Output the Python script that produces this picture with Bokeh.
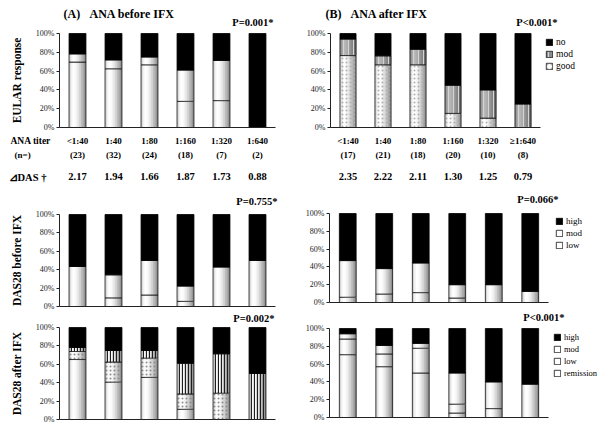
from bokeh.plotting import figure
from bokeh.models import (Range1d, FixedTicker, PrintfTickFormatter, Label, Legend, LegendItem,
                          LinearAxis)
from bokeh.embed import file_html
from bokeh.resources import INLINE

# ---------------- data ----------------
titer_A = ["<1:40", "1:40", "1:80", "1:160", "1:320", "1:640"]
titer_B = ["<1:40", "1:40", "1:80", "1:160", "1:320", "\u22651:640"]
n_A = ["(23)", "(32)", "(24)", "(18)", "(7)", "(2)"]
n_B = ["(17)", "(21)", "(18)", "(20)", "(10)", "(8)"]
ddas_A = ["2.17", "1.94", "1.66", "1.87", "1.73", "0.88"]
ddas_B = ["2.35", "2.22", "2.11", "1.30", "1.25", "0.79"]

eular_A_good = [69.6, 62.5, 66.7, 27.8, 28.6, 0.0]
eular_A_mod = [8.7, 9.4, 8.3, 33.3, 42.8, 0.0]
eular_A_no = [21.7, 28.1, 25.0, 38.9, 28.6, 100.0]

eular_B_good = [76.5, 66.7, 66.7, 15.0, 10.0, 0.0]
eular_B_mod = [17.6, 9.5, 16.6, 30.0, 30.0, 25.0]
eular_B_no = [5.9, 23.8, 16.7, 55.0, 60.0, 75.0]

dasb_A_low = [0.0, 9.4, 12.5, 5.6, 0.0, 0.0]
dasb_A_mod = [43.5, 25.0, 37.5, 16.6, 42.9, 50.0]
dasb_A_high = [56.5, 65.6, 50.0, 77.8, 57.1, 50.0]

dasb_B_low = [5.9, 9.5, 11.1, 5.0, 0.0, 0.0]
dasb_B_mod = [41.2, 28.6, 33.3, 15.0, 20.0, 12.5]
dasb_B_high = [52.9, 61.9, 55.6, 80.0, 80.0, 87.5]

dasa_A_rem = [65.2, 40.6, 45.8, 11.1, 0.0, 0.0]
dasa_A_low = [8.7, 21.9, 20.9, 16.7, 28.6, 0.0]
dasa_A_mod = [4.4, 12.5, 8.3, 33.3, 42.8, 50.0]
dasa_A_high = [21.7, 25.0, 25.0, 38.9, 28.6, 50.0]

dasa_B_rem = [70.6, 57.1, 50.0, 5.0, 0.0, 0.0]
dasa_B_low = [17.6, 14.3, 27.8, 10.0, 10.0, 0.0]
dasa_B_mod = [5.9, 9.6, 5.5, 35.0, 30.0, 37.5]
dasa_B_high = [5.9, 19.0, 16.7, 50.0, 60.0, 62.5]

y_ticks = [0, 20, 40, 60, 80, 100]

# ---------------- styles ----------------
SERIF = "Liberation Serif"
WHITE_GRAD = ["#d6d6d6", "#f2f2f2", "#ffffff", "#fcfcfc", "#f2f2f2", "#e4e4e4",
              "#d2d2d2", "#bebebe", "#a8a8a8", "#909090"]
GRAY_GRAD = ["#8c8c8c", "#a8a8a8", "#b8b8b8", "#b4b4b4", "#aaaaaa", "#a0a0a0",
             "#949494", "#888888", "#7a7a7a", "#6a6a6a"]
STYLES = {
    "white": dict(grad=WHITE_GRAD, hatch={}),
    "dots": dict(grad=WHITE_GRAD, hatch=dict(hatch_pattern="dot", hatch_color="#8c8c8c",
                                             hatch_scale=4, hatch_weight=1)),
    "lightdots": dict(grad=WHITE_GRAD, hatch=dict(hatch_pattern="dot", hatch_color="#b0b0b0",
                                                  hatch_scale=4, hatch_weight=1)),
    "stripes": dict(grad=WHITE_GRAD, hatch=dict(hatch_pattern="vertical_line", hatch_color="#1e1e1e",
                                                hatch_scale=3, hatch_weight=1.3)),
    "gray": dict(grad=GRAY_GRAD, hatch=dict(hatch_pattern="vertical_line", hatch_color="#d4d4d4",
                                            hatch_scale=5, hatch_weight=1)),
    "black": dict(grad=None, hatch={}),
}

W, H = 600, 424
p = figure(width=W, height=H, x_range=Range1d(0, W), y_range=Range1d(H, 0),
           x_axis_type=None, y_axis_type=None, output_backend="svg", toolbar_location=None,
           min_border=0, min_border_left=0, min_border_right=0, min_border_top=0,
           min_border_bottom=0)
p.outline_line_color = None
p.background_fill_color = "white"
p.border_fill_color = "white"

# panel frames in page pixels: (left, right, top, bottom)
GEOM = {
    "A1": (59, 275, 33, 127),
    "B1": (330, 540, 33, 127),
    "A2": (59, 275, 214, 306),
    "B2": (329, 548, 213, 302),
    "A3": (59, 275, 327, 419),
    "B3": (329, 548, 328, 417),
}
xr, yr = {}, {}
for key, (L, R, T, B) in GEOM.items():
    sx = 6.0 / (R - L)
    sy = 100.0 / (B - T)
    xr[key] = Range1d(-0.5 - L * sx, 5.5 + (W - R) * sx)
    yr[key] = Range1d(-(H - B) * sy, 100 + T * sy)
p.extra_x_ranges = xr
p.extra_y_ranges = yr


def add_axes(key, ylabel=None, xlabels=None):
    ya = LinearAxis(x_range_name=key, y_range_name=key, fixed_location=-0.5, bounds=(0, 100),
                    ticker=FixedTicker(ticks=y_ticks), formatter=PrintfTickFormatter(format="%d%%"))
    ya.major_tick_out = 3
    ya.major_tick_in = 0
    ya.minor_tick_out = 0
    ya.minor_tick_in = 0
    ya.major_label_standoff = 2
    ya.major_label_text_font = SERIF
    ya.major_label_text_font_size = "8px"
    ya.major_label_text_color = "#222222"
    ya.axis_line_color = "#222222"
    ya.major_tick_line_color = "#222222"
    if ylabel:
        ya.axis_label = ylabel
        ya.axis_label_text_font = SERIF
        ya.axis_label_text_font_size = "11.5px"
        ya.axis_label_text_font_style = "bold"
        ya.axis_label_text_color = "black"
        ya.axis_label_standoff = 10
    p.add_layout(ya, "left")
    xa = LinearAxis(x_range_name=key, y_range_name=key, fixed_location=0, bounds=(-0.5, 5.5))
    xa.major_tick_out = 0
    xa.major_tick_in = 0
    xa.minor_tick_out = 0
    xa.minor_tick_in = 0
    xa.axis_line_color = "#222222"
    if xlabels:
        xa.ticker = FixedTicker(ticks=list(range(len(xlabels))))
        xa.major_label_overrides = {i: s for i, s in enumerate(xlabels)}
        xa.major_label_text_font = SERIF
        xa.major_label_text_font_size = "9px"
        xa.major_label_text_font_style = "bold"
        xa.major_label_text_color = "black"
        xa.major_label_standoff = 8
    else:
        xa.ticker = FixedTicker(ticks=[])
    p.add_layout(xa, "below")


def draw_stack(key, series, bw):
    bottoms = [0.0] * 6
    out = {}
    kw = dict(x_range_name=key, y_range_name=key)
    for name, vals, skey in series:
        st = STYLES[skey]
        tops = [b + v for b, v in zip(bottoms, vals)]
        idx = [i for i in range(6) if vals[i] > 0]
        xs = [float(i) for i in idx]
        bs = [bottoms[i] for i in idx]
        ts = [tops[i] for i in idx]
        if st["grad"] is None:
            r = p.vbar(x=xs, width=bw, bottom=bs, top=ts, fill_color="black",
                       line_color="black", line_width=0.8, **kw)
            out[name] = [r]
        else:
            grad = st["grad"]
            N = len(grad)
            first = None
            for k, c in enumerate(grad):
                w = bw - k * bw / N
                off = -bw / 2 + k * bw / N + w / 2
                rr = p.vbar(x=[x + off for x in xs], width=w, bottom=bs, top=ts,
                            fill_color=c, line_color=None, **kw)
                if first is None:
                    first = rr
            r = p.vbar(x=xs, width=bw, bottom=bs, top=ts, fill_color=None,
                       line_color="#111111", line_width=0.8, **kw, **st["hatch"])
            out[name] = [first, r] if skey == "gray" else [r]
        bottoms = tops
    return out


def text(x, y, s, size, bold=True, align="left", key=None):
    kw = dict(x_range_name=key) if key else {}
    p.add_layout(Label(x=x, y=y, text=s, text_font=SERIF, text_font_size=f"{size}px",
                       text_font_style="bold" if bold else "normal", text_align=align,
                       text_baseline="middle", text_color="black", **kw))


def legend(entries, rx, ry_bottom, size):
    items = [LegendItem(label=lab, renderers=rs) for lab, rs in entries]
    lg = Legend(items=items, location=(rx, H - ry_bottom), orientation="vertical",
                border_line_color=None, background_fill_alpha=0, padding=0, margin=0,
                spacing=2, glyph_width=8, glyph_height=8, label_height=8, label_standoff=3,
                label_text_font=SERIF, label_text_font_size=f"{size}px",
                label_text_color="black")
    p.add_layout(lg)


BWA = 0.47
BWB = 0.46

# ---- (A) EULAR response ----
add_axes("A1", ylabel="EULAR response", xlabels=titer_A)
draw_stack("A1", [("good", eular_A_good, "white"), ("mod", eular_A_mod, "white"),
                  ("no", eular_A_no, "black")], BWA)
text(63, 13, "(A)", 12)
text(89, 13, "ANA before IFX", 12)
text(273, 22, "P=0.001*", 10.5, align="right")
text(10, 140, "ANA titer", 9.5)
text(14, 154, "(n=)", 9)
text(8, 177, "\u22bfDAS \u2020", 10.5)
for i in range(6):
    text(i, 154, n_A[i], 9, align="center", key="A1")
    text(i, 176, ddas_A[i], 10.5, align="center", key="A1")

# ---- (B) EULAR response ----
add_axes("B1", xlabels=titer_B)
rB1 = draw_stack("B1", [("good", eular_B_good, "lightdots"), ("mod", eular_B_mod, "gray"),
                        ("no", eular_B_no, "black")], BWB)
text(325, 13, "(B)", 12)
text(350, 13, "ANA after IFX", 12)
text(557, 22, "P<0.001*", 10.5, align="right")
for i in range(6):
    text(i, 154, n_B[i], 9, align="center", key="B1")
    text(i, 176, ddas_B[i], 10.5, align="center", key="B1")
legend([("no", rB1["no"]), ("mod", rB1["mod"]), ("good", rB1["good"])], 545, 71, 9.5)

# ---- DAS28 before IFX ----
add_axes("A2", ylabel="DAS28 before IFX")
draw_stack("A2", [("low", dasb_A_low, "white"), ("mod", dasb_A_mod, "white"),
                  ("high", dasb_A_high, "black")], BWA)
text(277, 201, "P=0.755*", 10.5, align="right")

add_axes("B2")
rB2 = draw_stack("B2", [("low", dasb_B_low, "white"), ("mod", dasb_B_mod, "white"),
                        ("high", dasb_B_high, "black")], BWB)
text(558, 199, "P=0.066*", 10.5, align="right")
legend([("high", rB2["high"]), ("mod", rB2["mod"]), ("low", rB2["low"])], 555, 250, 9)

# ---- DAS28 after IFX ----
add_axes("A3", ylabel="DAS28 after IFX")
draw_stack("A3", [("remission", dasa_A_rem, "white"), ("low", dasa_A_low, "dots"),
                  ("mod", dasa_A_mod, "stripes"), ("high", dasa_A_high, "black")], BWA)
text(274, 318, "P=0.002*", 10.5, align="right")

add_axes("B3")
rB3 = draw_stack("B3", [("remission", dasa_B_rem, "white"), ("low", dasa_B_low, "white"),
                        ("mod", dasa_B_mod, "white"), ("high", dasa_B_high, "black")], BWB)
text(564, 317, "P<0.001*", 10.5, align="right")
legend([("high", rB3["high"]), ("mod", rB3["mod"]), ("low", rB3["low"]),
        ("remission", rB3["remission"])], 553, 378, 8.5)

open("out.html", "w").write(file_html(p, INLINE))
